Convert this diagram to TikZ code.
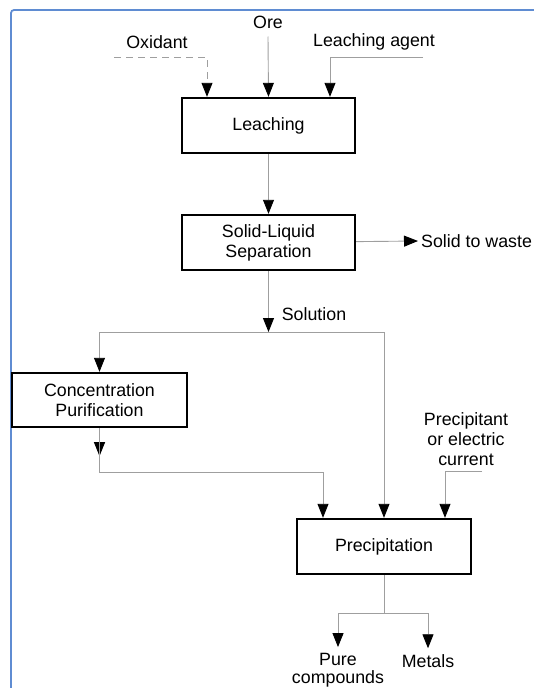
\documentclass[tikz,border=0pt]{standalone}
\usepackage{fontspec}
\setmainfont{Liberation Sans}
\usetikzlibrary{arrows.meta}
\begin{document}
\begin{tikzpicture}[x=1pt,y=-1pt]
	\tikzset{box/.style = {draw,line width=2.4pt,minimum width=173pt,minimum height=55pt,align=center,inner sep=0pt,font=\fontsize{17.8}{20}\selectfont}}
	\tikzset{lbl/.style = {align=center,inner sep=0pt,font=\fontsize{17.8}{20}\selectfont}}
	\tikzset{flow/.style = {draw=gray!75,line width=0.9pt}}
	\tikzset{arr/.style = {flow,-{Triangle[length=14pt,width=11pt,color=black]}}}
	\useasboundingbox (0,0) rectangle (533,688);
	\draw[color={rgb,255:red,95;green,140;blue,210},line width=1.8pt,rounded corners=3pt] (11,700) -- (11,10) -- (545,10);
	% process boxes
	\node[box] (leach) at (268.5,125.5) {Leaching};
	\node[box] (sep) at (268.5,242.5) {Solid-Liquid\\Separation};
	\node[box,minimum width=175pt,minimum height=54pt] (conc) at (99.5,400) {Concentration\\Purification};
	\node[box,minimum width=174pt] (prec) at (384,546.5) {Precipitation};
	% inputs and outputs
	\node[lbl] (ore) at (268,22) {Ore};
	\node[lbl] (ox) at (157,42) {Oxidant};
	\node[lbl] (agent) at (374,42) {Leaching agent};
	\node[lbl,anchor=west] (waste) at (421,241) {Solid to waste};
	\node[lbl] (sol) at (314,314) {Solution};
	\node[lbl] (pcp) at (466,439) {Precipitant\\or electric\\current};
	\node[lbl,font=\fontsize{17.8}{17.5}\selectfont] (pure) at (338,670) {Pure\\compounds};
	\node[lbl] (metals) at (428,661) {Metals};
	\coordinate (oxs) at (114,57);
	\coordinate (ags) at (423,57);
	\coordinate (split) at (268.5,332);
	\coordinate (pcs) at (482,471);
	\coordinate (fork) at (384,613);
	\coordinate (cin) at ([xshift=-61pt]prec.north);
	\coordinate (pin) at ([xshift=61pt]prec.north);
	% connectors
	\draw[arr,dash pattern=on 7pt off 5pt] (oxs) -| ([xshift=-61.5pt]leach.north);
	\draw[arr] ([yshift=-8pt]ore.south) -- (leach.north);
	\draw[arr] (ags) -| ([xshift=61.5pt]leach.north);
	\draw[arr] (leach) -- (sep);
	\draw[arr] (sep) -- ([xshift=-3pt]waste.west);
	\draw[arr] (sep) -- (split);
	\draw[arr] (split) -| (conc);
	\draw[arr] (split) -| (prec);
	\draw[arr] (conc.south) -- ++(0,28);
	\draw[arr] (conc.south) -- ++(0,44) -| (cin);
	\draw[arr] (pcs) -| (pin);
	\draw[flow] (prec) -- (fork);
	\draw[arr] (fork) -| ([yshift=6pt]pure.north);
	\draw[arr] (fork) -| ([yshift=6pt]metals.north);
\end{tikzpicture}
\end{document}
